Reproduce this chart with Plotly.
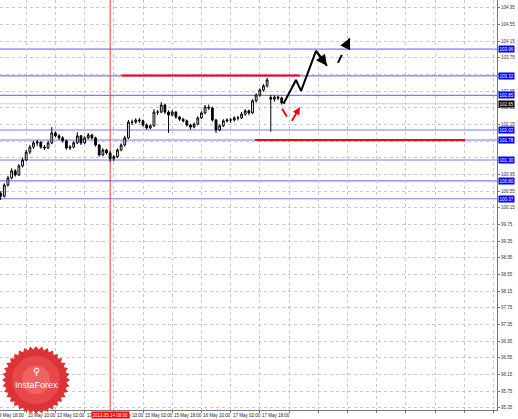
import numpy as np
import plotly.graph_objects as go

# ---------------- data ----------------
bar_index = list(range(79))
open_ = [100.55, 100.50, 100.43, 100.70, 100.87, 101.04, 100.94, 101.16, 101.30, 101.49,
         101.61, 101.71, 101.73, 101.61, 101.59, 101.71, 101.95, 101.88, 101.83, 101.76,
         101.59, 101.61, 101.71, 101.88, 101.71, 101.83, 101.90, 101.83, 101.66, 101.42,
         101.54, 101.47, 101.33, 101.38, 101.54, 101.66, 101.83, 102.21, 102.21, 102.26,
         102.24, 102.14, 102.07, 102.12, 102.45, 102.45, 102.62, 102.45, 102.38, 102.45,
         102.33, 102.28, 102.24, 102.14, 102.09, 102.16, 102.31, 102.43, 102.57, 102.55,
         102.26, 102.02, 102.12, 102.24, 102.26, 102.26, 102.31, 102.31, 102.40, 102.48,
         102.43, 102.72, 102.86, 102.98, 103.08, 102.80, 102.76, 102.81, 102.79]
high = [100.60, 100.55, 100.74, 100.92, 101.10, 101.08, 101.20, 101.36, 101.55, 101.66,
        101.76, 101.78, 101.75, 101.66, 101.76, 102.09, 101.99, 101.92, 101.87, 101.79,
        101.66, 101.75, 101.97, 101.90, 101.87, 101.95, 101.93, 101.86, 101.69, 101.58,
        101.57, 101.51, 101.42, 101.58, 101.70, 101.88, 102.26, 102.27, 102.30, 102.31,
        102.27, 102.18, 102.16, 102.52, 102.50, 102.69, 102.65, 102.49, 102.50, 102.47,
        102.36, 102.31, 102.27, 102.17, 102.20, 102.35, 102.47, 102.62, 102.63, 102.58,
        102.29, 102.16, 102.28, 102.30, 102.31, 102.35, 102.36, 102.45, 102.52, 102.51,
        102.76, 102.90, 103.02, 103.12, 103.27, 102.86, 102.85, 102.84, 102.82]
low = [100.44, 100.34, 100.40, 100.66, 100.84, 100.90, 100.92, 101.12, 101.27, 101.44,
       101.57, 101.64, 101.57, 101.54, 101.56, 101.68, 101.84, 101.78, 101.72, 101.55,
       101.54, 101.58, 101.68, 101.66, 101.68, 101.80, 101.79, 101.62, 101.38, 101.39,
       101.43, 101.26, 101.27, 101.35, 101.51, 101.62, 101.80, 102.14, 102.17, 102.19,
       102.10, 102.03, 102.04, 102.10, 102.38, 102.42, 102.40, 101.95, 102.35, 102.29,
       102.24, 102.20, 102.10, 102.03, 102.06, 102.13, 102.28, 102.40, 102.50, 102.22,
       101.95, 101.99, 102.09, 102.20, 102.19, 102.22, 102.25, 102.28, 102.36, 102.38,
       102.40, 102.68, 102.82, 102.94, 103.04, 101.98, 102.70, 102.74, 102.63]
close = [100.50, 100.43, 100.70, 100.87, 101.04, 100.94, 101.16, 101.30, 101.49, 101.61,
         101.71, 101.73, 101.61, 101.59, 101.71, 101.95, 101.88, 101.83, 101.76, 101.59,
         101.61, 101.71, 101.88, 101.71, 101.83, 101.90, 101.83, 101.66, 101.42, 101.54,
         101.47, 101.33, 101.38, 101.54, 101.66, 101.83, 102.21, 102.21, 102.26, 102.24,
         102.14, 102.07, 102.12, 102.45, 102.45, 102.62, 102.45, 102.38, 102.45, 102.33,
         102.28, 102.24, 102.14, 102.09, 102.16, 102.31, 102.43, 102.57, 102.55, 102.26,
         102.02, 102.12, 102.24, 102.26, 102.26, 102.31, 102.31, 102.40, 102.48, 102.43,
         102.72, 102.86, 102.98, 103.08, 103.22, 102.76, 102.81, 102.79, 102.67]

xtick_pos = [0, 8, 16, 24, 32, 40, 48, 56, 64, 72, 80, 88, 96, 104, 112, 120, 128, 136]
xtick_text = ["9 May 18:00", "10 May 10:00", "13 May 02:00", "13 May 18:00", "14 May 10:00",
              "15 May 02:00", "15 May 18:00", "16 May 10:00", "17 May 02:00", "17 May 18:00",
              "", "", "", "", "", "", "", ""]

ytick_vals = [95.35, 95.75, 96.15, 96.55, 96.95, 97.35, 97.75, 98.15, 98.55, 98.95,
              99.35, 99.75, 100.15, 100.55, 100.95, 101.35, 101.75, 102.15, 102.55,
              102.95, 103.35, 103.75, 104.15, 104.55, 104.95]
# labels hidden behind the price boxes are left blank
ytick_text = ["95.35", "95.75", "96.15", "96.55", "96.95", "97.35", "97.75", "98.15", "98.55",
              "98.95", "99.35", "99.75", "100.15", "100.55", "100.95", "", "",
              "102.15", "102.55", "102.95", "", "103.75", "104.15", "104.55", "104.95"]

level_prices = [103.96, 103.32, 102.85, 102.02, 101.78, 101.30, 100.80, 100.37]
level_labels = ["103.96", "103.32", "102.85", "102.02", "101.78", "101.30", "100.80", "100.37"]
bid_price = 102.65
bid_label = "102.65"

resist_price = 103.33
resist_span = [34.2, 83.0]
support_price = 101.78
support_span = [70.7, 128.2]

cursor_x = 31
cursor_label = "2013.05.14 08:00"

fc_solid_x = [78.5, 81.9, 83.3, 87.4, 90.4]
fc_solid_y = [102.65, 103.22, 102.96, 103.92, 103.56]
fc_dash_x = [93.4, 96.7]
fc_dash_y = [103.63, 104.23]
pb1_x = [78.1, 80.0]
pb1_y = [102.53, 102.26]
pb2_x = [80.8, 83.0]
pb2_y = [102.24, 102.57]

x_range = [0.82, 136.98]
y_range = [95.30, 105.14]

# ---------------- figure ----------------
W, H = 518, 419
ML, MR, MT, MB = 0, 21, 0, 9
PW, PH = W - ML - MR, H - MT - MB
FONT = "Liberation Sans"
FS = 4.5


def xpaper(v):
    return (v - x_range[0]) / (x_range[1] - x_range[0])


fig = go.Figure()

fig.add_trace(go.Candlestick(
    x=bar_index, open=open_, high=high, low=low, close=close,
    increasing=dict(line=dict(color="black", width=1), fillcolor="white"),
    decreasing=dict(line=dict(color="black", width=1), fillcolor="black"),
    whiskerwidth=0, showlegend=False, hoverinfo="skip"))

fig.add_trace(go.Scatter(x=fc_solid_x, y=fc_solid_y, mode="lines",
                         line=dict(color="black", width=2), showlegend=False, hoverinfo="skip"))
fig.add_trace(go.Scatter(x=fc_dash_x, y=fc_dash_y, mode="lines",
                         line=dict(color="black", width=2, dash="dash"), showlegend=False, hoverinfo="skip"))
fig.add_trace(go.Scatter(x=pb1_x, y=pb1_y, mode="lines",
                         line=dict(color="red", width=2, dash="dash"), showlegend=False, hoverinfo="skip"))
fig.add_trace(go.Scatter(x=pb2_x, y=pb2_y, mode="lines",
                         line=dict(color="red", width=2, dash="dash"), showlegend=False, hoverinfo="skip"))

shapes = []
for p in level_prices:
    shapes.append(dict(type="line", xref="paper", x0=0, x1=1, yref="y", y0=p, y1=p,
                       line=dict(color="#7878ff", width=1.2), layer="below"))
shapes.append(dict(type="line", xref="paper", x0=0, x1=1, yref="y", y0=bid_price, y1=bid_price,
                   line=dict(color="#cfcfcf", width=1), layer="below"))
shapes.append(dict(type="line", xref="x", x0=resist_span[0], x1=resist_span[1], yref="y",
                   y0=resist_price, y1=resist_price, line=dict(color="#ff0000", width=2), layer="above"))
shapes.append(dict(type="line", xref="x", x0=support_span[0], x1=support_span[1], yref="y",
                   y0=support_price, y1=support_price, line=dict(color="#ff0000", width=2), layer="above"))
shapes.append(dict(type="line", xref="x", x0=cursor_x, x1=cursor_x, yref="paper", y0=0, y1=1,
                   line=dict(color="#ff3030", width=1), layer="below"))

# InstaForex badge (decoration)
cx, cy, r_out, r_in, n = 36, 380, 34, 30.5, 36
ang = np.linspace(0, 2 * np.pi, 2 * n, endpoint=False)
rad = np.where(np.arange(2 * n) % 2 == 0, r_out, r_in)
px = cx + rad * np.cos(ang)
py = cy + rad * np.sin(ang)


def to_paper(x, y):
    return (x - ML) / PW, 1 - (y - MT) / PH


path = "M " + " L ".join("%.5f,%.5f" % to_paper(x, y) for x, y in zip(px, py)) + " Z"
shapes.append(dict(type="path", xref="paper", yref="paper", path=path,
                   fillcolor="#dc3336", line=dict(width=0), layer="above"))
for rr, col in [(24, "rgba(245,100,100,0.45)"), (14, "rgba(250,130,130,0.45)")]:
    shapes.append(dict(type="circle", xref="paper", yref="paper",
                       x0=(cx - rr) / PW, x1=(cx + rr) / PW, y0=1 - (cy + rr) / PH, y1=1 - (cy - rr) / PH,
                       fillcolor=col, line=dict(width=0), layer="above"))

annotations = []
for xv, t in zip(xtick_pos, xtick_text):
    if t:
        annotations.append(dict(x=xpaper(xv), xref="paper", y=0, yref="paper", yanchor="top",
                                xanchor="left", yshift=-1, text=t, showarrow=False,
                                font=dict(family=FONT, size=FS, color="#222")))
annotations.append(dict(x=xpaper(cursor_x), xref="paper", y=0, yref="paper", yanchor="top",
                        xanchor="center", yshift=-1, text=cursor_label, showarrow=False,
                        bgcolor="#ff0000", borderpad=0.6, font=dict(family=FONT, size=FS, color="white")))
for p, t in zip(level_prices, level_labels):
    annotations.append(dict(x=1, xref="paper", y=p, yref="y", xanchor="left", yanchor="middle",
                            xshift=1, text=t, showarrow=False, bgcolor="#0000ff", borderpad=0.6,
                            font=dict(family=FONT, size=FS, color="white")))
annotations.append(dict(x=1, xref="paper", y=bid_price, yref="y", xanchor="left", yanchor="middle",
                        xshift=1, text=bid_label, showarrow=False, bgcolor="#000000", borderpad=0.6,
                        font=dict(family=FONT, size=FS, color="white")))
annotations.append(dict(x=fc_solid_x[-1], y=fc_solid_y[-1], xref="x", yref="y",
                        ax=fc_solid_x[-2], ay=fc_solid_y[-2], axref="x", ayref="y",
                        showarrow=True, arrowhead=2, arrowsize=1.1, arrowwidth=2, arrowcolor="black", text=""))
annotations.append(dict(x=fc_dash_x[-1], y=fc_dash_y[-1], xref="x", yref="y",
                        ax=fc_dash_x[0] + 0.7 * (fc_dash_x[1] - fc_dash_x[0]),
                        ay=fc_dash_y[0] + 0.7 * (fc_dash_y[1] - fc_dash_y[0]), axref="x", ayref="y",
                        showarrow=True, arrowhead=2, arrowsize=1.1, arrowwidth=2, arrowcolor="black", text=""))
annotations.append(dict(x=pb2_x[-1], y=pb2_y[-1], xref="x", yref="y",
                        ax=pb2_x[0] + 0.6 * (pb2_x[1] - pb2_x[0]),
                        ay=pb2_y[0] + 0.6 * (pb2_y[1] - pb2_y[0]), axref="x", ayref="y",
                        showarrow=True, arrowhead=2, arrowsize=1.0, arrowwidth=1.5, arrowcolor="red", text=""))
tx, ty = to_paper(cx, cy + 5)
annotations.append(dict(x=tx, y=ty, xref="paper", yref="paper", xanchor="center", yanchor="middle",
                        text="InstaForex", showarrow=False,
                        font=dict(family=FONT, size=9, color="white")))
ix, iy = to_paper(cx, cy - 9)
annotations.append(dict(x=ix, y=iy, xref="paper", yref="paper", xanchor="center", yanchor="middle",
                        text="⚲", showarrow=False, font=dict(family="DejaVu Sans", size=10, color="white")))

fig.update_layout(
    width=W, height=H, autosize=False,
    margin=dict(l=ML, r=MR, t=MT, b=MB),
    paper_bgcolor="white", plot_bgcolor="white",
    shapes=shapes, annotations=annotations, showlegend=False, hovermode=False,
    xaxis=dict(range=x_range, tickvals=xtick_pos, ticktext=[""] * len(xtick_pos),
               showgrid=True, gridcolor="#c8c8c8", griddash="dot", gridwidth=1,
               zeroline=False, showline=True, linecolor="#777", linewidth=1,
               ticks="outside", ticklen=2, tickcolor="#777",
               rangeslider=dict(visible=False), fixedrange=True),
    yaxis=dict(range=y_range, side="right", tickvals=ytick_vals, ticktext=ytick_text,
               showgrid=True, gridcolor="#c8c8c8", griddash="dot", gridwidth=1,
               zeroline=False, showline=True, linecolor="#777", linewidth=1,
               ticks="outside", ticklen=2, tickcolor="#777",
               tickfont=dict(family=FONT, size=FS, color="#333"), fixedrange=True),
)

fig.write_html("out.html", config={"staticPlot": True},
               post_script="document.body.style.margin='0';document.body.style.padding='0';document.body.style.overflow='hidden';")
